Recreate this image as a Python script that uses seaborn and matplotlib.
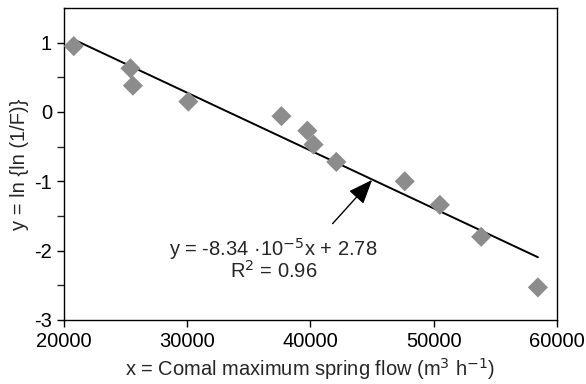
import numpy as np
import pandas as pd
import matplotlib
matplotlib.use("Agg")
import matplotlib.pyplot as plt
import seaborn as sns

flow = [20800, 25400, 25600, 30100, 37650, 39750, 40250, 42100, 47650, 50500, 53850, 58450]
lnln = [0.95, 0.63, 0.38, 0.15, -0.06, -0.27, -0.47, -0.72, -1.00, -1.34, -1.80, -2.53]
slope = -8.34e-5
intercept = 2.78
xticks = [20000, 30000, 40000, 50000, 60000]
yticks = [-3, -2, -1, 0, 1]

sns.set_style("ticks")
plt.rcParams['font.family'] = ['Liberation Sans', 'DejaVu Sans']

df = pd.DataFrame({"x": flow, "y": lnln})
fit = pd.DataFrame({"x": [min(flow), max(flow)]})
fit["y"] = slope * fit["x"] + intercept

fig = plt.figure(figsize=(5.86, 3.84), dpi=100)
ax = fig.add_axes([0.109, 0.1667, 0.8415, 0.8125])

sns.lineplot(data=fit, x="x", y="y", ax=ax, color="black", linewidth=1.4)
sns.scatterplot(data=df, x="x", y="y", ax=ax, marker="D", s=105,
                color="#8c8c8c", edgecolor="none", zorder=3)

fs = 14.5
ax.set_xlim(20000, 60000)
ax.set_ylim(-3, 1.5)
ax.set_xticks(xticks)
ax.set_xticklabels([str(v) for v in xticks])
ax.set_yticks(yticks)
ax.set_yticklabels([str(v) for v in yticks])
ax.set_yticks([-2.5, -1.5, -0.5, 0.5], minor=True)
ax.tick_params(axis="both", which="major", labelsize=fs, length=5, width=1, direction="out", colors="black")
ax.tick_params(axis="x", which="major", pad=4)
ax.tick_params(axis="y", which="minor", length=5, width=1, direction="out")
for sp in ax.spines.values():
    sp.set_visible(True)
    sp.set_color("black")
    sp.set_linewidth(1)

ax.set_xlabel("x = Comal maximum spring flow (m$^3$ h$^{-1}$)", fontsize=fs, labelpad=3)
ax.set_ylabel("y = ln {ln (1/F)}", fontsize=fs, labelpad=4)

ax.text(37000, -1.97, "y = -8.34 ·10$^{-5}$x + 2.78", ha="center", va="center", fontsize=fs)
ax.text(37000, -2.29, "R$^2$ = 0.96", ha="center", va="center", fontsize=fs)
ax.annotate("", xy=(45000, -0.98), xytext=(41800, -1.61),
            arrowprops=dict(arrowstyle="-|>,head_length=0.75,head_width=0.3",
                            color="black", lw=1, mutation_scale=20,
                            shrinkA=0, shrinkB=0))

fig.savefig("out.png", dpi=100)
